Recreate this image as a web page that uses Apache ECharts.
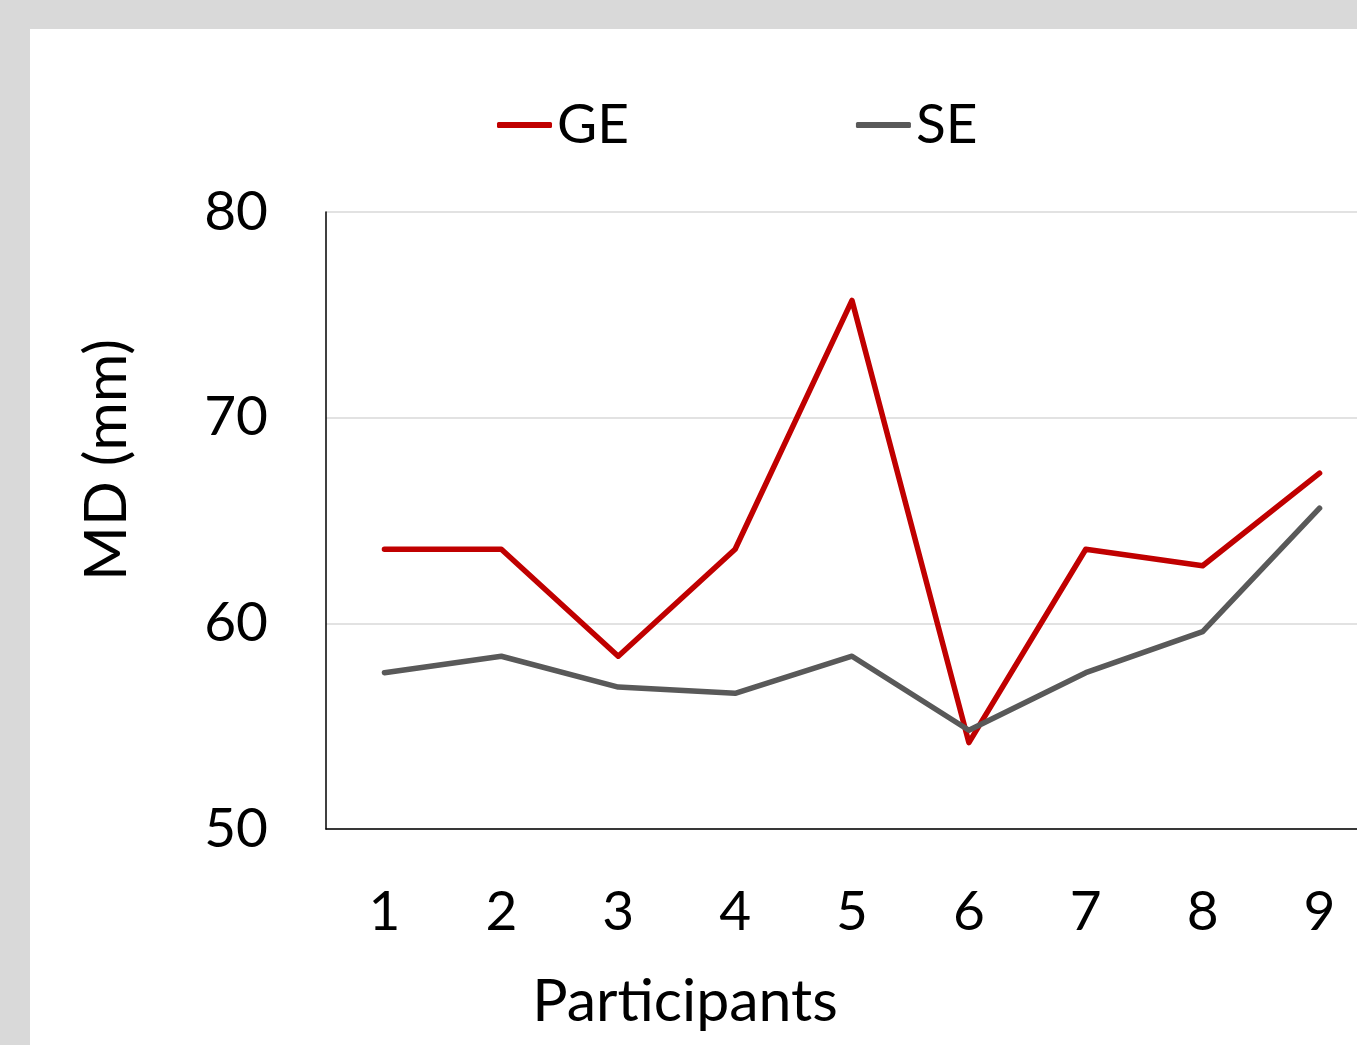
<!DOCTYPE html>
<html>
<head>
<meta charset="utf-8">
<title>MD per participant</title>
<script src="https://cdn.jsdelivr.net/npm/echarts@6/dist/echarts.min.js"></script>
<style>
  html, body { margin: 0; padding: 0; background: #d9d9d9; overflow: hidden; width: 1357px; height: 1045px; }
  #chart { position: absolute; left: 30px; top: 29px; width: 1348px; height: 1016px; background: #fff; }
</style>
</head>
<body>
<div id="chart"></div>
<script>
// 数据
var participants = ["1", "2", "3", "4", "5", "6", "7", "8", "9"];
var geValues = [63.6, 63.6, 58.4, 63.6, 75.7, 54.2, 63.6, 62.8, 67.3];
var seValues = [57.6, 58.4, 56.9, 56.6, 58.4, 54.8, 57.6, 59.6, 65.6];
var seriesNames = ["GE", "SE"];

var font = "Lato, 'Open Sans', sans-serif";
var chart = echarts.init(document.getElementById("chart"));

chart.setOption({
  animation: false,
  color: ["#c00000", "#595959"],
  legend: {
    data: seriesNames,
    left: 462,
    top: 61,
    icon: "roundRect",
    itemWidth: 55,
    itemHeight: 6,
    itemGap: 227,
    textStyle: { fontFamily: font, fontSize: 55, color: "#000", lineHeight: 60 }
  },
  grid: { left: 296, top: 183, width: 1052, height: 617 },
  xAxis: {
    type: "category",
    data: participants,
    boundaryGap: true,
    axisLine: { show: true, lineStyle: { color: "#000", width: 1.5 } },
    axisTick: { show: false },
    axisLabel: { fontFamily: font, fontSize: 55, color: "#000", margin: 50, lineHeight: 66 }
  },
  yAxis: {
    type: "value",
    min: 50,
    max: 80,
    interval: 10,
    axisLine: { show: true, lineStyle: { color: "#000", width: 1.5 } },
    axisTick: { show: false },
    axisLabel: { fontFamily: font, fontSize: 55, color: "#000", margin: 58 },
    splitLine: { show: true, lineStyle: { color: "#d9d9d9", width: 1.5 } }
  },
  graphic: [
    {
      type: "text",
      x: 77,
      y: 431,
      rotation: Math.PI / 2,
      style: {
        text: "MD (mm)",
        font: "59px " + font,
        fill: "#000",
        textAlign: "center",
        textVerticalAlign: "middle"
      }
    },
    {
      type: "text",
      x: 655,
      y: 973,
      style: {
        text: "Participants",
        font: "59px " + font,
        fill: "#000",
        textAlign: "center",
        textVerticalAlign: "middle"
      }
    }
  ],
  series: [
    {
      name: seriesNames[0],
      type: "line",
      data: geValues,
      showSymbol: false,
      lineStyle: { width: 5.5, cap: "round", join: "round" }
    },
    {
      name: seriesNames[1],
      type: "line",
      data: seValues,
      showSymbol: false,
      lineStyle: { width: 5.5, cap: "round", join: "round" }
    }
  ]
});
</script>
</body>
</html>
